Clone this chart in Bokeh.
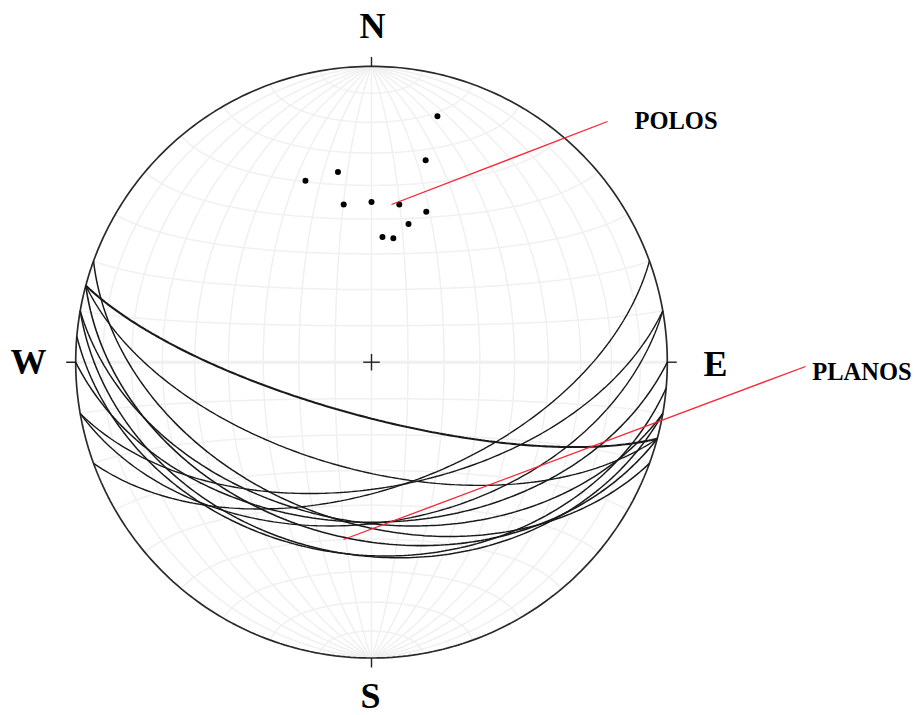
import numpy as np
from bokeh.plotting import figure
from bokeh.models import Range1d
from bokeh.core.properties import value
from bokeh.embed import file_html
from bokeh.resources import INLINE

# Poles to the planes: trend and plunge in degrees
pole_trend = [15, 15, 350, 340, 0, 350, 10, 20, 15, 5, 10]
pole_plunge = [15, 30, 35, 35, 45, 45, 45, 45, 50, 55, 55]
plane_width = [2.1, 1.4, 1.4, 1.4, 1.5, 1.4, 1.5, 1.5, 1.6, 1.5, 1.5]

cardinal_labels = ["N", "S", "W", "E"]
callout_labels = ["POLOS", "PLANOS"]
grid_step = 10

W, H = 914, 715
CX, CY, R = 371.0, 361.7, 295.8
OX, OY = 0, 0


def ux(px):
    return (px - CX) / R


def uy(py):
    return (CY - py) / R


p = figure(width=W, height=H, output_backend="svg", toolbar_location=None,
           x_axis_type=None, y_axis_type=None, min_border=0,
           outline_line_color=None,
           x_range=Range1d(ux(OX), ux(OX + W)), y_range=Range1d(uy(OY + H), uy(OY)))
p.grid.visible = False
p.background_fill_color = "white"
p.border_fill_color = "white"

GRID = "#f0f0f0"


def net(lon, lat):
    lon, lat = np.radians(lon), np.radians(lat)
    k = 1 / np.sqrt(1 + np.cos(lat) * np.cos(lon))
    return k * np.cos(lat) * np.sin(lon), k * np.sin(lat)


# Equal-area (Schmidt) net
for lon in range(-80, 81, grid_step):
    x, y = net(np.full(181, float(lon)), np.linspace(-90, 90, 181))
    p.line(x, y, line_color=GRID, line_width=1.5)
for lat in range(-80, 81, grid_step):
    x, y = net(np.linspace(-90, 90, 181), np.full(181, float(lat)))
    p.line(x, y, line_color=GRID, line_width=3 if lat == 0 else 1.5)

# Primitive circle
t = np.linspace(0, 2 * np.pi, 361)
p.line(np.cos(t), np.sin(t), line_color="#2a2a2a", line_width=1.7)

# Ticks and centre cross
tick = 9.5 / R
cross = 8.3 / R
for x0, y0, x1, y1 in [(0, 1, 0, 1 + tick), (0, -1, 0, -1 - tick),
                       (-1, 0, -1 - tick, 0), (1, 0, 1 + tick, 0),
                       (-cross, 0, cross, 0), (0, -cross, 0, cross)]:
    p.line([x0, x1], [y0, y1], line_color="#222222", line_width=1.4)


def schmidt(trend, plunge):
    r = np.sqrt(2) * np.sin(np.radians(45 - plunge / 2))
    return r * np.sin(np.radians(trend)), r * np.cos(np.radians(trend))


# Great circles of the planes
for tr, pl, lw in zip(pole_trend, pole_plunge, plane_width):
    dd, dip = np.radians(tr + 180), np.radians(90 - pl)
    s = np.array([np.sin(dd - np.pi / 2), np.cos(dd - np.pi / 2), 0.0])
    d = np.array([np.sin(dd) * np.cos(dip), np.cos(dd) * np.cos(dip), np.sin(dip)])
    a = np.linspace(0, np.pi, 181)
    v = np.outer(np.cos(a), s) + np.outer(np.sin(a), d)
    plunge = np.degrees(np.arcsin(np.clip(v[:, 2], -1, 1)))
    trend = np.degrees(np.arctan2(v[:, 0], v[:, 1]))
    x, y = schmidt(trend, plunge)
    p.line(x, y, line_color="#1a1a1a", line_width=lw)

# Poles
px, py = schmidt(np.array(pole_trend, float), np.array(pole_plunge, float))
p.scatter(px, py, size=6, fill_color="black", line_color="black", line_width=0)

# Callouts
p.line([ux(391), ux(607)], [uy(204), uy(121)], line_color="#ff2030", line_width=1.3)
p.line([ux(343), ux(805)], [uy(539), uy(366)], line_color="#ff2030", line_width=1.3)

font = value("Liberation Serif")
for lab, x0, y0 in zip(cardinal_labels, [372, 370, 28, 715], [25, 695.5, 361, 363]):
    p.text([ux(x0)], [uy(y0)], text=[lab], text_font=font, text_font_style="bold",
           text_font_size="36px", text_align="center", text_baseline="middle",
           text_color="black")
for lab, x0, y0 in zip(callout_labels, [675.5, 861.5], [120, 371]):
    p.text([ux(x0)], [uy(y0)], text=[lab], text_font=font, text_font_style="bold",
           text_font_size="24.5px", text_align="center", text_baseline="middle",
           text_color="black")

open("out.html", "w").write(file_html(p, INLINE))
